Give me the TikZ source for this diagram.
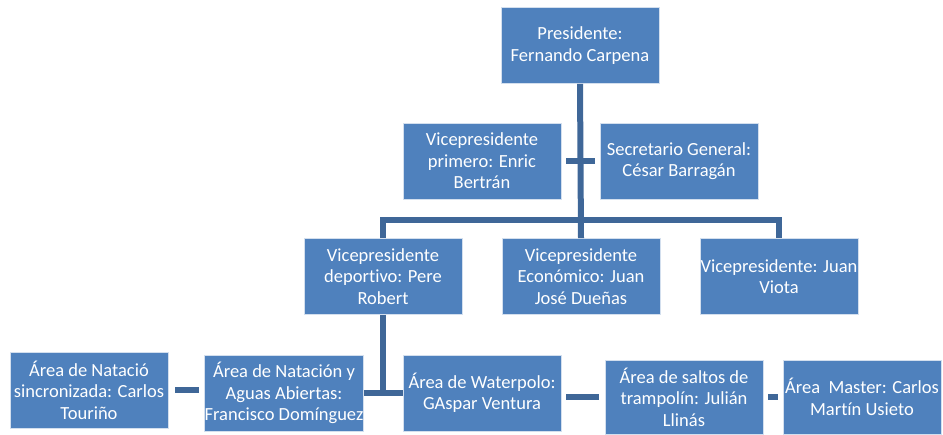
\documentclass[tikz,border=0pt]{standalone}
\usepackage{fontspec}
\setmainfont{Carlito}[Ligatures=NoCommon]
\usepackage{tikz}
\definecolor{boxblue}{RGB}{79,129,189}
\definecolor{linkblue}{RGB}{63,103,152}

\begin{document}
\begin{tikzpicture}[x=1pt,y=-1pt,
        box/.style={rectangle,fill=boxblue,draw=white!75!boxblue,line width=0.8pt,
            minimum width=158pt,minimum height=76pt,inner sep=0pt,
            align=center,text=white,font=\fontsize{18.5}{21.5}\selectfont},
        link/.style={draw=linkblue,line width=6pt}]
        \useasboundingbox (0,0) rectangle (943,434);
        % Top
        \node[box] (pres) at (580,45.5) {Presidente:\\Fernando Carpena};
        \node[box] (vpprim) at (482,161) {Vicepresidente\\primero: Enric\\Bertrán};
        \node[box] (secgen) at (679,161) {Secretario General:\\César Barragán};
        % Vicepresidentes
        \node[box] (vpdep) at (383,276.5) {Vicepresidente\\deportivo: Pere\\Robert};
        \node[box] (vpeco) at (581,276.5) {Vicepresidente\\Económico: Juan\\José Dueñas};
        \node[box] (vpvio) at (779,276.5) {Vicepresidente: Juan\\Viota};
        % Areas
        \node[box] (sincro) at (89,390) {Área de Natació\\sincronizada: Carlos\\Touriño};
        \node[box] (natac) at (284,393) {Área de Natación y\\Aguas Abiertas:\\Francisco Domínguez};
        \node[box] (water) at (482,393) {Área de Waterpolo:\\GAspar Ventura};
        \node[box,minimum height=74pt] (saltos) at (684,397) {Área de saltos de\\trampolín: Julián\\Llinás};
        \node[box,minimum height=74pt] (master) at (862,397) {Área~~Master: Carlos\\Martín Usieto};
        % Connectors
        \coordinate (bar) at (580,220);
        \draw[link] (pres.south) -- (vpeco.north);
        \draw[link] (vpdep.north) |- (bar) -| (vpvio.north);
        \draw[link,shorten <=5pt,shorten >=5pt] (vpprim.east) -- (secgen.west);
        \draw[link] (vpdep.south) -- (vpdep.south |- water.west);
        \draw[link] (natac.east) -- (water.west);
        \draw[link,shorten <=7pt,shorten >=5pt] (sincro.east) -- (natac.west |- sincro.east);
        \draw[link,shorten <=5pt,shorten >=6pt] (water.east |- saltos.west) -- (saltos.west);
        \draw[link,shorten <=5pt,shorten >=5pt] (saltos.east) -- (master.west);
\end{tikzpicture}
\end{document}
